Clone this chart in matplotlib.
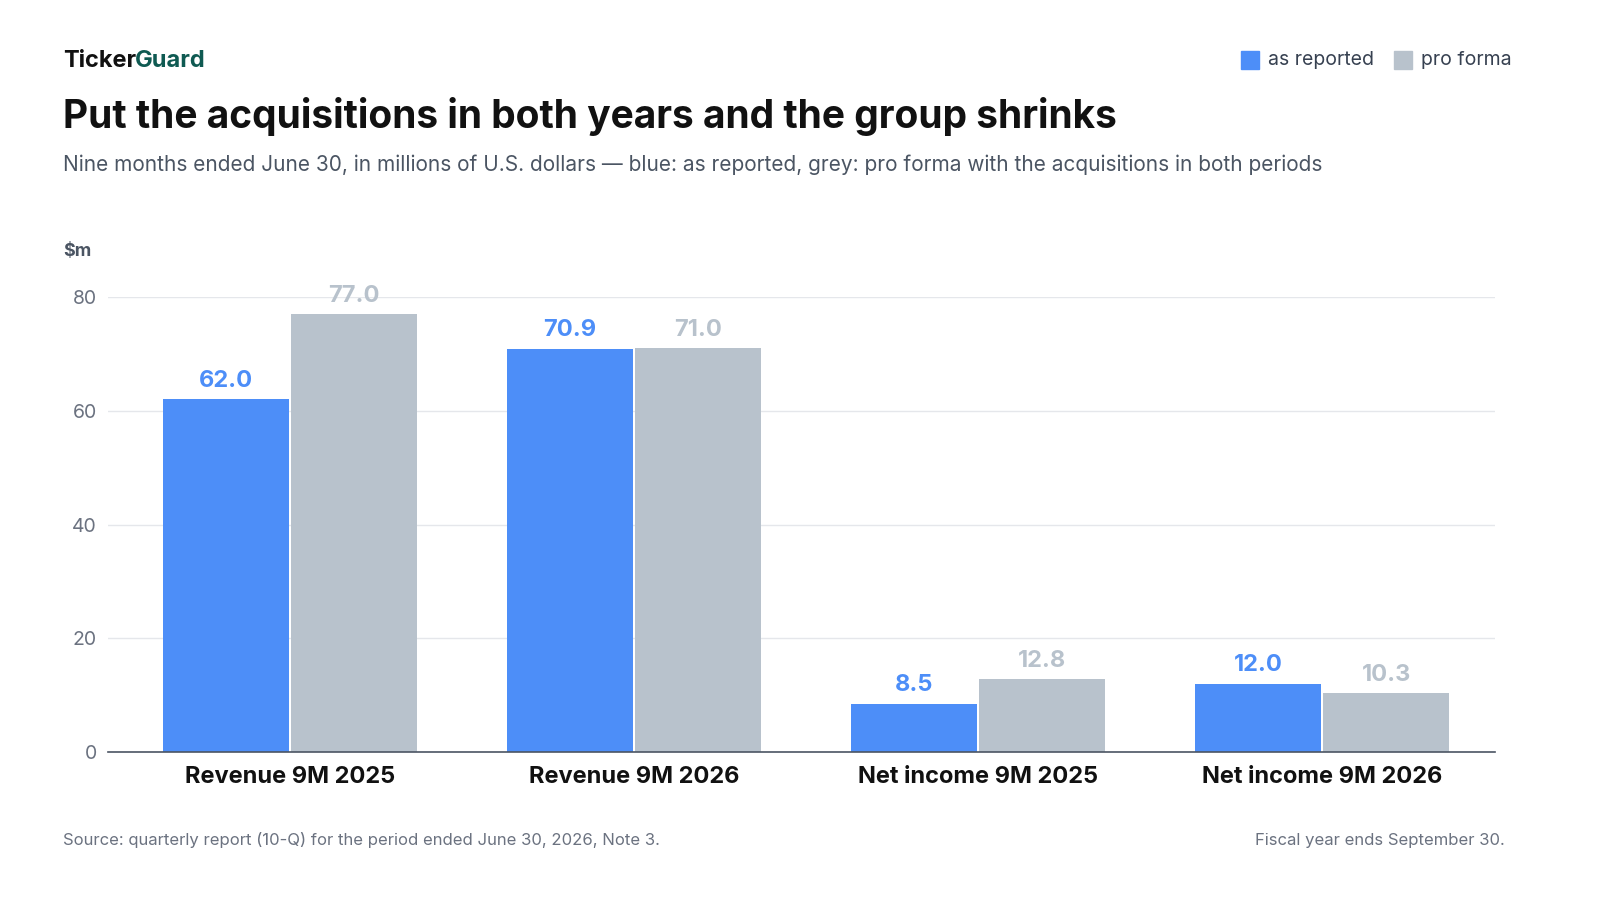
import matplotlib
matplotlib.use("Agg")
import matplotlib.pyplot as plt
import numpy as np

plt.rcParams['font.family'] = ['Inter', 'DejaVu Sans']

categories = ["Revenue 9M 2025", "Revenue 9M 2026", "Net income 9M 2025", "Net income 9M 2026"]
as_reported = [62.0, 70.9, 8.5, 12.0]
pro_forma = [77.0, 71.0, 12.8, 10.3]
yticks = [0, 20, 40, 60, 80]

BLUE = "#4d8ef8"
GREY = "#b8c2cc"

fig = plt.figure(figsize=(16, 9), dpi=100)
ax = fig.add_axes([0.0675, 1 - 752 / 900, 0.867, 455 / 900])

x = np.arange(len(categories))
w = 0.366
off = 0.186
b1 = ax.bar(x - off, as_reported, w, color=BLUE)
b2 = ax.bar(x + off, pro_forma, w, color=GREY)
for rect, v in zip(b1, as_reported):
    ax.text(rect.get_x() + rect.get_width() / 2, v + 1.3, f"{v:.1f}", ha="center", va="bottom",
            fontsize=17, fontweight="bold", color=BLUE, clip_on=False)
for rect, v in zip(b2, pro_forma):
    ax.text(rect.get_x() + rect.get_width() / 2, v + 1.3, f"{v:.1f}", ha="center", va="bottom",
            fontsize=17, fontweight="bold", color=GREY, clip_on=False)

ax.set_xlim(-0.529, 3.503)
ax.set_ylim(0, 80)
ax.set_yticks(yticks)
ax.set_yticklabels([str(t) for t in yticks], fontsize=14, color="#6b7280")
ax.set_xticks(x)
ax.set_xticklabels(categories, fontsize=17, fontweight="bold", color="#111111")
ax.tick_params(axis="both", length=0)
ax.tick_params(axis="x", pad=10)
ax.tick_params(axis="y", pad=8)
ax.grid(axis="y", color="#e5e7eb", linewidth=1)
ax.set_axisbelow(True)
for s in ["top", "right", "left"]:
    ax.spines[s].set_visible(False)
ax.spines["bottom"].set_color("#4b5563")
ax.spines["bottom"].set_linewidth(1.2)

fig.text(63 / 1600, 1 - 252 / 900, "$m", fontsize=13, fontweight="bold", color="#4b5563", va="center")

fig.text(63 / 1600, 1 - 61 / 900, "Ticker", fontsize=17, fontweight="bold", color="#111111", va="center")
fig.text(135 / 1600, 1 - 61 / 900, "Guard", fontsize=17, fontweight="bold", color="#0f5a52", va="center")
fig.text(63 / 1600, 1 - 116 / 900, "Put the acquisitions in both years and the group shrinks",
         fontsize=28, fontweight="bold", color="#111111", va="center")
fig.text(63 / 1600, 1 - 165 / 900,
         "Nine months ended June 30, in millions of U.S. dollars \u2014 blue: as reported, grey: pro forma with the acquisitions in both periods",
         fontsize=15, color="#4b5563", va="center")

# legend
fig.patches.append(plt.Rectangle((1241 / 1600, 1 - 69 / 900), 18 / 1600, 18 / 900, transform=fig.transFigure,
                                 color=BLUE, figure=fig))
fig.text(1268 / 1600, 1 - 60 / 900, "as reported", fontsize=14, color="#374151", va="center")
fig.patches.append(plt.Rectangle((1394 / 1600, 1 - 69 / 900), 18 / 1600, 18 / 900, transform=fig.transFigure,
                                 color=GREY, figure=fig))
fig.text(1421 / 1600, 1 - 60 / 900, "pro forma", fontsize=14, color="#374151", va="center")

fig.text(63 / 1600, 1 - 840 / 900, "Source: quarterly report (10-Q) for the period ended June 30, 2026, Note 3.",
         fontsize=12, color="#6b7280", va="center")
fig.text(1505 / 1600, 1 - 840 / 900, "Fiscal year ends September 30.", fontsize=12, color="#6b7280",
         va="center", ha="right")

fig.savefig("out.png", dpi=100, facecolor="white")
